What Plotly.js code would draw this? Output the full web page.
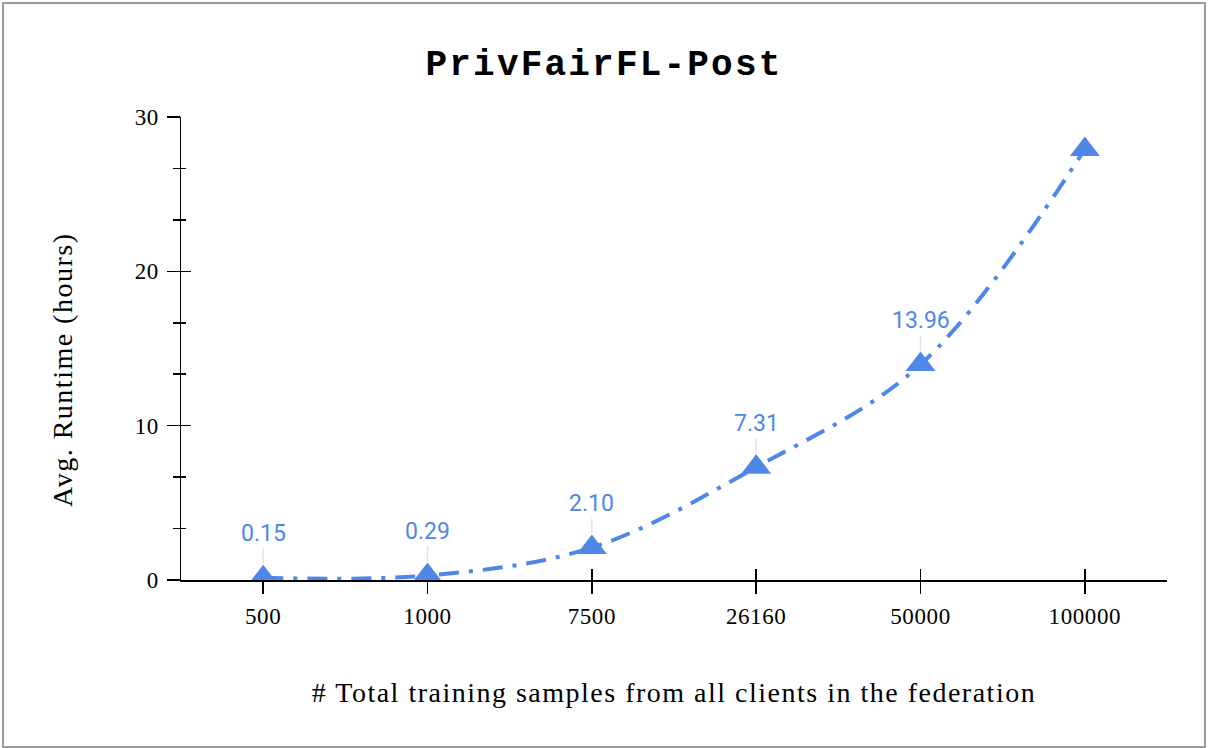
<!DOCTYPE html>
<html>
<head>
<meta charset="utf-8">
<script src="https://cdn.plot.ly/plotly-3.0.1.min.js"></script>
<style>
  html, body { margin: 0; padding: 0; background: #ffffff; }
  #frame { position: absolute; left: 2px; top: 2px; width: 1200px; height: 742px; border: 2px solid #9b9b9b; background: #fff; }
  #chart { width: 1200px; height: 742px; }
  .gtitle { letter-spacing: 2.2px; }
  .xtick text, .ytick text { letter-spacing: 0.6px; }
</style>
</head>
<body>
<div id="frame"><div id="chart"></div></div>
<script>
// ---- data ----
var sampleCounts = ['500', '1000', '7500', '26160', '50000', '100000'];
var runtimeHours = [0.15, 0.29, 2.10, 7.31, 13.96, 27.9];
var pointLabels = ['0.15', '0.29', '2.10', '7.31', '13.96', ''];
var yTickVals = [0, 10, 20, 30];
var xTitle = '# Total training samples from all clients in the federation';
var yTitle = 'Avg. Runtime (hours)';

var blue = '#4f87e9';
var serif = '"Liberation Serif", "Times New Roman", serif';

var mainTrace = {
  x: sampleCounts,
  y: runtimeHours,
  type: 'scatter',
  mode: 'lines+markers',
  line: { color: blue, width: 4, shape: 'spline', smoothing: 1, dash: '20px,10px,4px,10px' },
  marker: { symbol: 'triangle-up', size: 26, color: blue },
  hoverinfo: 'x+y',
  showlegend: false,
  xaxis: 'x', yaxis: 'y'
};
// invisible companion trace so overlaid axes can draw inner tick halves
var tickTrace = {
  x: sampleCounts,
  y: runtimeHours,
  type: 'scatter',
  mode: 'markers',
  marker: { opacity: 0, size: 1 },
  hoverinfo: 'skip',
  showlegend: false,
  xaxis: 'x2', yaxis: 'y2'
};

var annotations = [];
for (var i = 0; i < sampleCounts.length; i++) {
  if (!pointLabels[i]) continue;
  annotations.push({
    x: i, y: runtimeHours[i], xref: 'x', yref: 'y',
    text: pointLabels[i],
    showarrow: true, arrowhead: 0, arrowwidth: 1.5, arrowcolor: '#e4e4e4',
    ax: 0, ay: -44, standoff: 14,
    font: { family: 'Roboto, "Open Sans", sans-serif', size: 23, color: blue }
  });
}
annotations.push({
  text: xTitle,
  xref: 'paper', yref: 'paper', x: 0.5, y: -0.242,
  xanchor: 'center', yanchor: 'middle', showarrow: false,
  font: { family: serif, size: 28, color: '#000' }
});
annotations.push({
  text: yTitle,
  xref: 'paper', yref: 'paper', x: -0.1197, y: 0.4536,
  xanchor: 'center', yanchor: 'middle', showarrow: false, textangle: -90,
  font: { family: serif, size: 28, color: '#000' }
});

var baseX = {
  type: 'category',
  categoryorder: 'array',
  categoryarray: sampleCounts,
  range: [-0.5, sampleCounts.length - 0.5],
  showgrid: false, zeroline: false,
  showline: true, linecolor: '#000', linewidth: 1.5,
  tickcolor: '#000', tickwidth: 1.5,
  layer: 'below traces',
  fixedrange: true
};
var baseY = {
  range: [0, 30],
  tickvals: yTickVals,
  showgrid: false, zeroline: false,
  showline: true, linecolor: '#000', linewidth: 1.5,
  tickcolor: '#000', tickwidth: 1.5,
  layer: 'below traces',
  fixedrange: true
};

var layout = {
  width: 1200, height: 742,
  margin: { l: 177, r: 37, t: 113, b: 166 },
  paper_bgcolor: '#ffffff', plot_bgcolor: '#ffffff',
  title: {
    text: '<b>PrivFairFL-Post</b>',
    x: 0.5, xref: 'container', xanchor: 'center',
    y: 0.9218, yref: 'container', yanchor: 'middle',
    font: { family: '"Liberation Mono", "Courier New", monospace', size: 36, color: '#000' }
  },
  xaxis: Object.assign({}, baseX, {
    ticks: 'outside', ticklen: 12,
    ticklabelstandoff: 3,
    tickfont: { family: serif, size: 23, color: '#000' }
  }),
  xaxis2: Object.assign({}, baseX, {
    overlaying: 'x', anchor: 'y', side: 'bottom',
    ticks: 'inside', ticklen: 11, showticklabels: false
  }),
  yaxis: Object.assign({}, baseY, {
    ticks: 'outside', ticklen: 13,
    ticklabelstandoff: 3,
    tickfont: { family: serif, size: 23, color: '#000' },
    minor: { dtick: 10 / 3, ticks: 'outside', ticklen: 7, tickcolor: '#000', tickwidth: 1.5 }
  }),
  yaxis2: Object.assign({}, baseY, {
    overlaying: 'y', anchor: 'x', side: 'left',
    ticks: 'inside', ticklen: 10, showticklabels: false,
    minor: { dtick: 10 / 3, ticks: 'inside', ticklen: 5, tickcolor: '#000', tickwidth: 1.5 }
  }),
  annotations: annotations,
  showlegend: false
};

Plotly.newPlot('chart', [mainTrace, tickTrace], layout, { displayModeBar: false, staticPlot: true }).then(function () {
  var nodes = document.querySelectorAll('.annotation-text');
  nodes.forEach(function (n) {
    var t = n.textContent;
    if (t === xTitle || t === yTitle) n.style.letterSpacing = '1.5px';
  });
});
</script>
</body>
</html>
